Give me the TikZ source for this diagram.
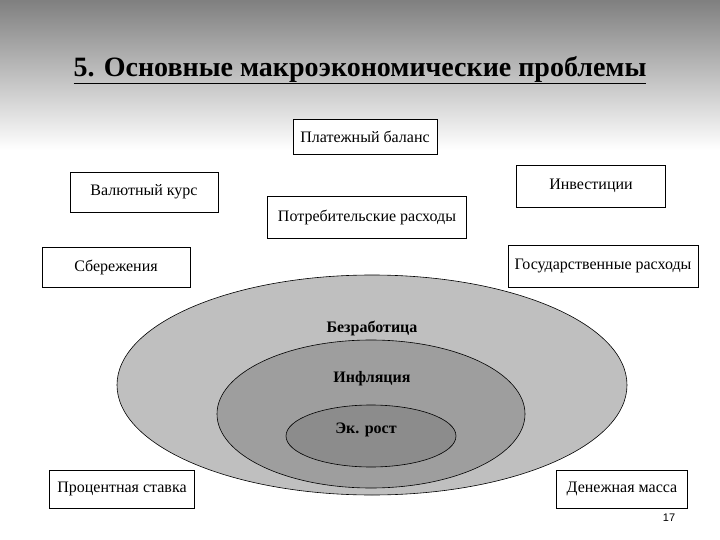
\documentclass[tikz,border=0pt]{standalone}
\usepackage{fontspec}
\setmainfont{Liberation Serif}
\setsansfont{Liberation Sans}
\begin{document}
\begin{tikzpicture}[x=1pt,y=-1pt,
  box/.style={draw=black,fill=white,line width=0.6pt,font=\fontsize{16}{18}\selectfont},
  lbl/.style={font=\bfseries\fontsize{16}{18}\selectfont}]
\useasboundingbox (0,0) rectangle (720,540);
\fill[white] (0,0) rectangle (720,540);
\shade[top color=black!50,bottom color=white] (0,0) rectangle (720,150);
\node (title) at (360,70) {\fontsize{28}{32}\selectfont\bfseries\underline{5. Основные макроэкономические проблемы}};
\draw[fill=black!25,line width=0.6pt] (372,385) ellipse [x radius=255,y radius=110];
\draw[fill=black!38,line width=0.6pt] (371,414) ellipse [x radius=154,y radius=74];
\draw[fill=black!45,line width=0.6pt] (371,436) ellipse [x radius=85,y radius=31];
\node[lbl] (b) at (372,328) {Безработица};
\node[lbl] (i) at (372,379) {Инфляция};
\node[lbl] (e) at (366,430) {Эк. рост};
\node[box,minimum width=144,minimum height=35,inner sep=1pt] (pb) at (365,137) {Платежный баланс};
\node[box,minimum width=148,minimum height=40] (vk) at (144,192) {Валютный курс};
\node[box,minimum width=149,minimum height=42] (inv) at (591,186) {Инвестиции};
\node[box,minimum width=199,minimum height=42,inner sep=0pt] (pr) at (367,217) {Потребительские расходы};
\node[box,minimum width=148,minimum height=40] (sb) at (116,267) {Сбережения};
\node[box,minimum width=190,minimum height=42,inner sep=0pt] (gr) at (603,266) {Государственные расходы};
\node[box,minimum width=145,minimum height=38,inner sep=0pt] (ps) at (122,489) {Процентная ставка};
\node[box,minimum width=131,minimum height=38] (dm) at (622,489) {Денежная масса};
\node[font=\sffamily\fontsize{11}{12}\selectfont] (n) at (669,518) {17};
\end{tikzpicture}
\end{document}
